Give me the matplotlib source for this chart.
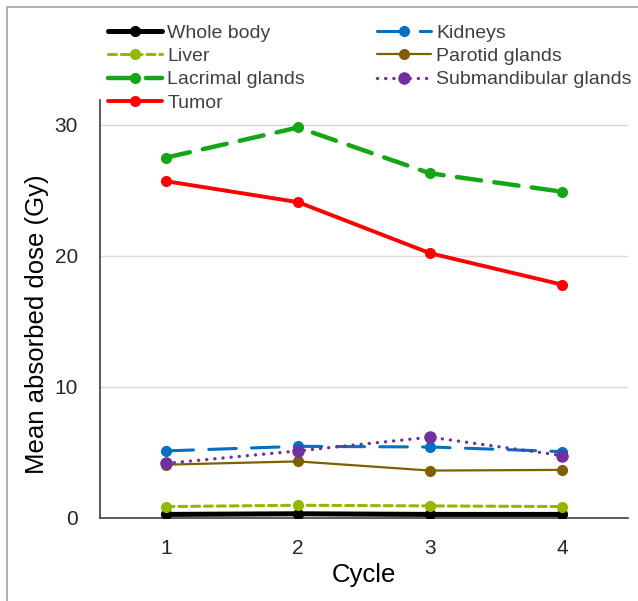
import matplotlib
matplotlib.use('Agg')
from matplotlib import pyplot as plt
from matplotlib.patches import Rectangle

cycles = [1, 2, 3, 4]
whole_body = [0.25, 0.3, 0.25, 0.25]
liver = [0.85, 0.95, 0.9, 0.85]
lacrimal = [27.5, 29.8, 26.3, 24.9]
tumor = [25.7, 24.1, 20.2, 17.8]
kidneys = [5.1, 5.45, 5.4, 5.05]
parotid = [4.05, 4.3, 3.6, 3.65]
submandibular = [4.15, 5.1, 6.15, 4.75]

y_ticks = [0, 10, 20, 30]

plt.rcParams['font.family'] = ['Liberation Sans', 'DejaVu Sans']

fig = plt.figure(figsize=(6.38, 6.01), dpi=100)
ax = fig.add_axes([100 / 638, 1 - 517.7 / 601, 528 / 638, 417.7 / 601])

# series: label, data, color, width, dash, marker size
series = [
    ('Whole body', whole_body, '#000000', 3.6, '-', 7),
    ('Liver', liver, '#92B800', 2.2, (0, (2.6, 1.6)), 7),
    ('Lacrimal glands', lacrimal, '#14A614', 3.2, (0, (5.5, 3.0)), 7),
    ('Tumor', tumor, '#FF0000', 2.8, '-', 7),
    ('Kidneys', kidneys, '#0070C0', 2.2, (0, (9, 5)), 7),
    ('Parotid glands', parotid, '#7F6000', 1.6, '-', 7),
    ('Submandibular glands', submandibular, '#7030A0', 2.4, (0, (0.05, 2.4)), 8),
]

for label, vals, color, lw, ls, ms in series:
    ax.plot(cycles, vals, color=color, lw=lw, linestyle=ls, marker='o',
            markersize=ms, label=label, dash_capstyle='round',
            solid_capstyle='round', zorder=3)

ax.set_xlim(0.5, 4.5)
ax.set_ylim(0, 31.9)
ax.set_xticks(cycles)
ax.set_yticks(y_ticks)
ax.grid(axis='y', color='#D9D9D9', lw=1)
ax.set_axisbelow(True)
ax.tick_params(length=0, labelsize=15, colors='#262626')
ax.tick_params(axis='y', pad=16)
ax.tick_params(axis='x', pad=15)
for side in ['top', 'right']:
    ax.spines[side].set_visible(False)
for side in ['left', 'bottom']:
    ax.spines[side].set_color('#404040')
    ax.spines[side].set_linewidth(1.2)

ax.set_xlabel('Cycle', fontsize=18.5, color='#000000', labelpad=4)
ax.set_ylabel('Mean absorbed dose (Gy)', fontsize=18.5, color='#000000', labelpad=4)
ax.yaxis.label.set_y(0.464)

leg = fig.legend(loc='upper left', bbox_to_anchor=(108 / 638, 1 - 24 / 601),
                 ncol=2, frameon=False, fontsize=14, handlelength=2.8,
                 handletextpad=0.25, columnspacing=3.7, labelspacing=0.30,
                 borderaxespad=0, borderpad=0)
for t in leg.get_texts():
    t.set_color('#404040')

# outer gray frame
fig.patches.append(Rectangle((7 / 638, -0.1), 1.2, 1 - 7 / 601 + 0.1,
                             transform=fig.transFigure, fill=False,
                             edgecolor='#A6A6A6', lw=1.2))

fig.savefig('out.png', dpi=100)
